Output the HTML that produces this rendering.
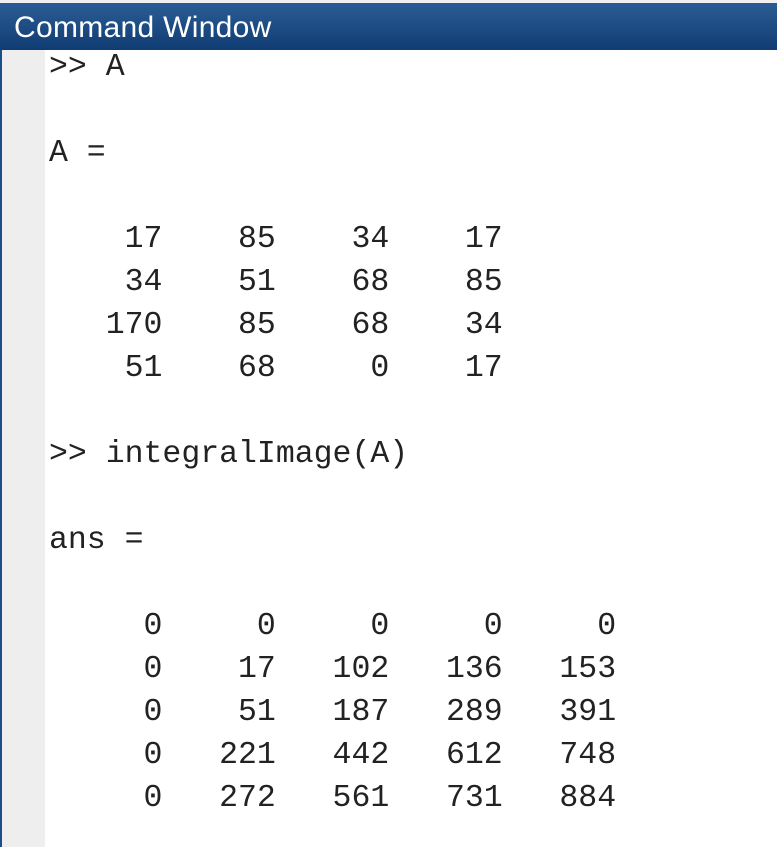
<!DOCTYPE html>
<html><head><style>
html,body{margin:0;padding:0;width:777px;height:847px;overflow:hidden;background:#fff}
.top{position:absolute;left:0;top:0;width:777px;height:3px;background:#f0f0f0}
.bar{position:absolute;left:0;top:3px;width:777px;height:47px;background:linear-gradient(#2a5d95,#103c72)}
.bar span{position:absolute;left:14px;top:8px;color:#fff;font:30px "Liberation Sans",sans-serif;letter-spacing:0.3px}
.edge{position:absolute;left:0;top:50px;width:2px;height:797px;background:#1b4f8a}
.gut{position:absolute;left:2px;top:50px;width:43px;height:797px;background:#eeeeee}
pre{position:absolute;left:49px;top:46px;margin:0;font:31.5px/43px "Liberation Mono",monospace;color:#222}
</style></head><body>
<div class="top"></div>
<div class="bar"><span>Command Window</span></div>
<div class="edge"></div><div class="gut"></div>
<pre>&gt;&gt; A

A =

    17    85    34    17
    34    51    68    85
   170    85    68    34
    51    68     0    17

&gt;&gt; integralImage(A)

ans =

     0     0     0     0     0
     0    17   102   136   153
     0    51   187   289   391
     0   221   442   612   748
     0   272   561   731   884</pre>
</body></html>
